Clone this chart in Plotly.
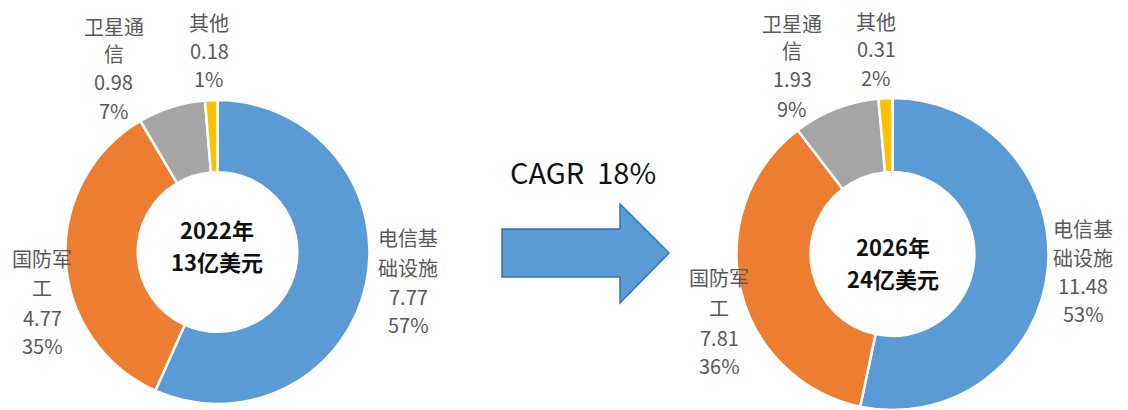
import plotly.graph_objects as go

W, H = 1128, 410

categories = ["电信基础设施", "国防军工", "卫星通信", "其他"]
label_lines = [["电信基", "础设施"], ["国防军", "工"], ["卫星通", "信"], ["其他"]]
values_2022 = [7.77, 4.77, 0.98, 0.18]
pct_2022 = ["57%", "35%", "7%", "1%"]
values_2026 = [11.48, 7.81, 1.93, 0.31]
pct_2026 = ["53%", "36%", "9%", "2%"]
center_2022 = ["2022年", "13亿美元"]
center_2026 = ["2026年", "24亿美元"]
cagr_text = "CAGR  18%"
colors = ["#5B9BD5", "#ED7D31", "#A5A5A5", "#FFC000"]

LABEL_FONT = "Noto Sans CJK SC, Noto Sans, sans-serif"
LABEL_COLOR = "#595959"


def px(x):
    return x / W


def py(y):
    return 1 - y / H


fig = go.Figure()

# Donut charts
fig.add_trace(go.Pie(
    labels=categories, values=values_2022, hole=0.525, sort=False,
    direction="clockwise", rotation=0, textinfo="none",
    marker=dict(colors=colors, line=dict(color="white", width=2.5)),
    domain=dict(x=[px(217.5 - 152), px(217.5 + 152)], y=[py(252 + 152), py(252 - 152)]),
    showlegend=False, hoverinfo="label+value+percent",
))
fig.add_trace(go.Pie(
    labels=categories, values=values_2026, hole=0.525, sort=False,
    direction="clockwise", rotation=0, textinfo="none",
    marker=dict(colors=colors, line=dict(color="white", width=2.5)),
    domain=dict(x=[px(892.5 - 156), px(892.5 + 156)], y=[0, py(254 - 156)]),
    showlegend=False, hoverinfo="label+value+percent",
))

annotations = []


def add_label(lines, cx, ys):
    for text, y in zip(lines, ys):
        annotations.append(dict(
            x=px(cx), y=py(y), xref="paper", yref="paper", text=text,
            showarrow=False, xanchor="center", yanchor="middle",
            font=dict(family=LABEL_FONT, size=20, color=LABEL_COLOR),
        ))


def fmt(v):
    return f"{v:.2f}"


# Left chart labels (positions in pixels)
left_pos = [
    (408, [238, 267, 296, 324]),
    (42, [258, 287, 317, 345]),
    (114, [26, 53, 82, 110]),
    (209, [22, 50, 79]),
]
for i, (cx, ys) in enumerate(left_pos):
    add_label(label_lines[i] + [fmt(values_2022[i]), pct_2022[i]], cx, ys)

right_pos = [
    (1083, [228, 257, 285, 313]),
    (719, [277, 307, 337, 365]),
    (792, [23, 50, 79, 108]),
    (876, [21, 48, 78]),
]
for i, (cx, ys) in enumerate(right_pos):
    add_label(label_lines[i] + [fmt(values_2026[i]), pct_2026[i]], cx, ys)

# Center texts
for lines, cx, ys in [(center_2022, 217, [229, 261]), (center_2026, 893, [246, 278])]:
    for text, y in zip(lines, ys):
        annotations.append(dict(
            x=px(cx), y=py(y), xref="paper", yref="paper", text=f"<b>{text}</b>",
            showarrow=False, xanchor="center", yanchor="middle",
            font=dict(family="Noto Sans CJK SC, sans-serif", size=22, color="#111111"),
        ))

# CAGR text
annotations.append(dict(
    x=px(583), y=py(171), xref="paper", yref="paper", text=cagr_text,
    showarrow=False, xanchor="center", yanchor="middle",
    font=dict(family="Noto Sans CJK SC, sans-serif", size=29, color="#111111"),
))

# Arrow shape
pts = [(502, 229), (620, 229), (620, 204), (669, 253), (620, 303), (620, 277), (502, 277)]
path = "M " + " L ".join(f"{px(x):.5f},{py(y):.5f}" for x, y in pts) + " Z"
shapes = [dict(type="path", xref="paper", yref="paper", path=path,
               fillcolor="#5B9BD5", line=dict(color="#2E75B6", width=1.5))]

fig.update_layout(
    width=W, height=H, margin=dict(l=0, r=0, t=0, b=0),
    paper_bgcolor="white", plot_bgcolor="white",
    annotations=annotations, shapes=shapes,
)

fig.write_html(
    "out.html",
    config={"displayModeBar": False},
    post_script="document.body.style.margin='0';document.body.style.overflow='hidden';",
)
